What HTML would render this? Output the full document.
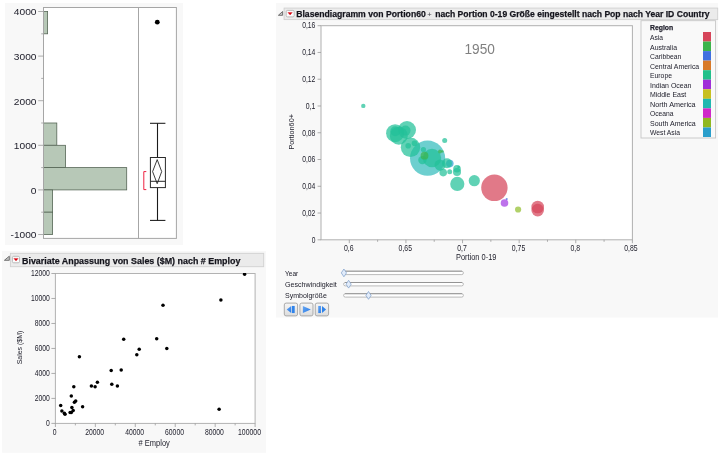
<!DOCTYPE html>
<html lang="de"><head><meta charset="utf-8"><title>JMP Berichte</title>
<style>html,body{margin:0;padding:0;background:#fff;width:720px;height:455px;overflow:hidden}svg{display:block;font-family:'Liberation Sans', Arial, sans-serif}</style></head><body>
<svg width="720" height="455" viewBox="0 0 720 455" fill="#22222e">
<rect width="720" height="455" fill="#ffffff"/>
<g id="distribution">
<rect x="5.00" y="3.00" width="178.00" height="242.00" fill="#f8f8f8" />
<rect x="43.50" y="7.50" width="132.90" height="230.90" fill="#ffffff" />
<rect x="43.50" y="11.50" width="4.10" height="22.30" fill="#b7c8b7" stroke="#566656" stroke-width="0.8" />
<rect x="43.50" y="123.00" width="13.30" height="22.30" fill="#b7c8b7" stroke="#566656" stroke-width="0.8" />
<rect x="43.50" y="145.30" width="22.00" height="22.30" fill="#b7c8b7" stroke="#566656" stroke-width="0.8" />
<rect x="43.50" y="167.60" width="83.20" height="22.30" fill="#b7c8b7" stroke="#566656" stroke-width="0.8" />
<rect x="43.50" y="189.90" width="9.10" height="22.30" fill="#b7c8b7" stroke="#566656" stroke-width="0.8" />
<rect x="43.50" y="212.20" width="9.10" height="22.30" fill="#b7c8b7" stroke="#566656" stroke-width="0.8" />
<rect x="43.50" y="7.50" width="132.90" height="230.90" fill="none" stroke="#a6a6a6" stroke-width="1" />
<line x1="138.50" y1="7.50" x2="138.50" y2="238.40" stroke="#a6a6a6" stroke-width="1" />
<line x1="38.20" y1="234.50" x2="43.50" y2="234.50" stroke="#9a9a9a" stroke-width="0.8" />
<text x="36.50" y="238.40" font-size="9.8" text-anchor="end" textLength="26.00" lengthAdjust="spacingAndGlyphs">-1000</text>
<line x1="41.20" y1="212.20" x2="43.50" y2="212.20" stroke="#9a9a9a" stroke-width="0.8" />
<line x1="38.20" y1="189.90" x2="43.50" y2="189.90" stroke="#9a9a9a" stroke-width="0.8" />
<text x="36.50" y="193.80" font-size="9.8" text-anchor="end" textLength="5.70" lengthAdjust="spacingAndGlyphs">0</text>
<line x1="41.20" y1="167.60" x2="43.50" y2="167.60" stroke="#9a9a9a" stroke-width="0.8" />
<line x1="38.20" y1="145.30" x2="43.50" y2="145.30" stroke="#9a9a9a" stroke-width="0.8" />
<text x="36.50" y="149.20" font-size="9.8" text-anchor="end" textLength="22.70" lengthAdjust="spacingAndGlyphs">1000</text>
<line x1="41.20" y1="123.00" x2="43.50" y2="123.00" stroke="#9a9a9a" stroke-width="0.8" />
<line x1="38.20" y1="100.70" x2="43.50" y2="100.70" stroke="#9a9a9a" stroke-width="0.8" />
<text x="36.50" y="104.60" font-size="9.8" text-anchor="end" textLength="22.70" lengthAdjust="spacingAndGlyphs">2000</text>
<line x1="41.20" y1="78.40" x2="43.50" y2="78.40" stroke="#9a9a9a" stroke-width="0.8" />
<line x1="38.20" y1="56.10" x2="43.50" y2="56.10" stroke="#9a9a9a" stroke-width="0.8" />
<text x="36.50" y="60.00" font-size="9.8" text-anchor="end" textLength="22.70" lengthAdjust="spacingAndGlyphs">3000</text>
<line x1="41.20" y1="33.80" x2="43.50" y2="33.80" stroke="#9a9a9a" stroke-width="0.8" />
<line x1="38.20" y1="11.50" x2="43.50" y2="11.50" stroke="#9a9a9a" stroke-width="0.8" />
<text x="36.50" y="15.40" font-size="9.8" text-anchor="end" textLength="22.70" lengthAdjust="spacingAndGlyphs">4000</text>
<line x1="157.50" y1="123.30" x2="157.50" y2="157.50" stroke="#1a1a1a" stroke-width="1.1" />
<line x1="157.50" y1="187.60" x2="157.50" y2="220.40" stroke="#1a1a1a" stroke-width="1.1" />
<line x1="150.00" y1="123.30" x2="165.40" y2="123.30" stroke="#1a1a1a" stroke-width="1.05" />
<line x1="150.00" y1="220.40" x2="165.40" y2="220.40" stroke="#1a1a1a" stroke-width="1.05" />
<rect x="150.40" y="157.50" width="15.00" height="30.10" fill="none" stroke="#2a2a2a" stroke-width="1.0" />
<line x1="150.40" y1="181.30" x2="165.40" y2="181.30" stroke="#2a2a2a" stroke-width="1.0" />
<polygon points="157.2,159.6 161.7,171.6 157.2,183.7 152.6,171.6" fill="none" stroke="#1a1a1a" stroke-width="0.85"/>
<polyline points="146.3,171.6 143.8,171.6 143.8,189.6 146.3,189.6" fill="none" stroke="#ee2240" stroke-width="1"/>
<circle cx="157.30" cy="22.20" r="2.40" fill="#000"/>
</g>
<g id="bivariate">
<rect x="2.10" y="251.00" width="263.90" height="201.80" fill="#f8f8f8" />
<rect x="10.40" y="253.30" width="253.30" height="13.40" fill="#ebebeb" stroke="#d0d0d0" stroke-width="0.9" />
<polygon points="9.30,256.20 9.30,260.30 4.40,260.30" fill="#c8c8c8" stroke="#666666" stroke-width="0.9" stroke-linejoin="round"/>
<rect x="12.40" y="256.30" width="7.10" height="6.50" fill="#fbfbfb" stroke="#b4b4b4" stroke-width="0.9" rx="1.3"/>
<polygon points="13.80,258.40 18.20,258.40 16.00,260.90" fill="#d9000f" stroke="#d9000f" stroke-width="0.3" stroke-linejoin="round"/>
<text x="22.00" y="263.50" font-size="9.8" font-weight="bold" stroke="#14141c" stroke-width="0.25" fill="#14141c" textLength="218.40" lengthAdjust="spacingAndGlyphs">Bivariate Anpassung von Sales ($M) nach # Employ</text>
<rect x="55.40" y="273.50" width="199.70" height="149.90" fill="#ffffff" stroke="#b2b2b2" stroke-width="1" />
<line x1="51.40" y1="423.40" x2="55.40" y2="423.40" stroke="#9a9a9a" stroke-width="0.8" />
<text x="49.90" y="425.95" font-size="8.3" text-anchor="end" textLength="3.78" lengthAdjust="spacingAndGlyphs">0</text>
<line x1="51.40" y1="398.42" x2="55.40" y2="398.42" stroke="#9a9a9a" stroke-width="0.8" />
<text x="49.90" y="400.97" font-size="8.3" text-anchor="end" textLength="15.12" lengthAdjust="spacingAndGlyphs">2000</text>
<line x1="51.40" y1="373.43" x2="55.40" y2="373.43" stroke="#9a9a9a" stroke-width="0.8" />
<text x="49.90" y="375.98" font-size="8.3" text-anchor="end" textLength="15.12" lengthAdjust="spacingAndGlyphs">4000</text>
<line x1="51.40" y1="348.45" x2="55.40" y2="348.45" stroke="#9a9a9a" stroke-width="0.8" />
<text x="49.90" y="351.00" font-size="8.3" text-anchor="end" textLength="15.12" lengthAdjust="spacingAndGlyphs">6000</text>
<line x1="51.40" y1="323.47" x2="55.40" y2="323.47" stroke="#9a9a9a" stroke-width="0.8" />
<text x="49.90" y="326.02" font-size="8.3" text-anchor="end" textLength="15.12" lengthAdjust="spacingAndGlyphs">8000</text>
<line x1="51.40" y1="298.48" x2="55.40" y2="298.48" stroke="#9a9a9a" stroke-width="0.8" />
<text x="49.90" y="301.03" font-size="8.3" text-anchor="end" textLength="18.90" lengthAdjust="spacingAndGlyphs">10000</text>
<line x1="51.40" y1="273.50" x2="55.40" y2="273.50" stroke="#9a9a9a" stroke-width="0.8" />
<text x="49.90" y="276.05" font-size="8.3" text-anchor="end" textLength="18.90" lengthAdjust="spacingAndGlyphs">12000</text>
<line x1="55.40" y1="423.40" x2="55.40" y2="427.00" stroke="#9a9a9a" stroke-width="0.8" />
<text x="54.70" y="435.00" font-size="8.3" text-anchor="middle" textLength="3.78" lengthAdjust="spacingAndGlyphs">0</text>
<line x1="75.37" y1="423.40" x2="75.37" y2="425.40" stroke="#9a9a9a" stroke-width="0.8" />
<line x1="95.34" y1="423.40" x2="95.34" y2="427.00" stroke="#9a9a9a" stroke-width="0.8" />
<text x="94.64" y="435.00" font-size="8.3" text-anchor="middle" textLength="18.90" lengthAdjust="spacingAndGlyphs">20000</text>
<line x1="115.31" y1="423.40" x2="115.31" y2="425.40" stroke="#9a9a9a" stroke-width="0.8" />
<line x1="135.28" y1="423.40" x2="135.28" y2="427.00" stroke="#9a9a9a" stroke-width="0.8" />
<text x="134.58" y="435.00" font-size="8.3" text-anchor="middle" textLength="18.90" lengthAdjust="spacingAndGlyphs">40000</text>
<line x1="155.25" y1="423.40" x2="155.25" y2="425.40" stroke="#9a9a9a" stroke-width="0.8" />
<line x1="175.22" y1="423.40" x2="175.22" y2="427.00" stroke="#9a9a9a" stroke-width="0.8" />
<text x="174.52" y="435.00" font-size="8.3" text-anchor="middle" textLength="18.90" lengthAdjust="spacingAndGlyphs">60000</text>
<line x1="195.19" y1="423.40" x2="195.19" y2="425.40" stroke="#9a9a9a" stroke-width="0.8" />
<line x1="215.16" y1="423.40" x2="215.16" y2="427.00" stroke="#9a9a9a" stroke-width="0.8" />
<text x="214.46" y="435.00" font-size="8.3" text-anchor="middle" textLength="18.90" lengthAdjust="spacingAndGlyphs">80000</text>
<line x1="235.13" y1="423.40" x2="235.13" y2="425.40" stroke="#9a9a9a" stroke-width="0.8" />
<line x1="255.10" y1="423.40" x2="255.10" y2="427.00" stroke="#9a9a9a" stroke-width="0.8" />
<text x="261.00" y="435.00" font-size="8.3" text-anchor="end" textLength="22.98" lengthAdjust="spacingAndGlyphs">100000</text>
<text x="154.20" y="445.50" font-size="8.3" text-anchor="middle" textLength="31.20" lengthAdjust="spacingAndGlyphs"># Employ</text>
<text transform="translate(21.8,347.5) rotate(-90)" font-size="8.0" text-anchor="middle" textLength="33.6" lengthAdjust="spacingAndGlyphs">Sales ($M)</text>
<clipPath id="sc"><rect x="55.40" y="272.90" width="199.70" height="150.50"/></clipPath>
<g fill="#000" clip-path="url(#sc)">
<circle cx="60.7" cy="405.5" r="1.75"/>
<circle cx="61.9" cy="411.0" r="1.75"/>
<circle cx="64.4" cy="413.2" r="1.75"/>
<circle cx="65.0" cy="414.2" r="1.75"/>
<circle cx="70.1" cy="412.6" r="1.75"/>
<circle cx="71.3" cy="412.4" r="1.75"/>
<circle cx="71.9" cy="407.6" r="1.75"/>
<circle cx="73.2" cy="410.4" r="1.75"/>
<circle cx="71.3" cy="396.1" r="1.75"/>
<circle cx="73.8" cy="386.7" r="1.75"/>
<circle cx="74.4" cy="402.3" r="1.75"/>
<circle cx="75.7" cy="401.0" r="1.75"/>
<circle cx="82.6" cy="406.7" r="1.75"/>
<circle cx="91.4" cy="386.0" r="1.75"/>
<circle cx="95.1" cy="386.7" r="1.75"/>
<circle cx="97.4" cy="382.3" r="1.75"/>
<circle cx="111.8" cy="384.2" r="1.75"/>
<circle cx="117.4" cy="386.0" r="1.75"/>
<circle cx="111.2" cy="370.5" r="1.75"/>
<circle cx="121.2" cy="370.0" r="1.75"/>
<circle cx="79.4" cy="356.7" r="1.75"/>
<circle cx="123.7" cy="339.2" r="1.75"/>
<circle cx="139.2" cy="349.2" r="1.75"/>
<circle cx="136.8" cy="354.8" r="1.75"/>
<circle cx="156.7" cy="338.8" r="1.75"/>
<circle cx="166.8" cy="348.6" r="1.75"/>
<circle cx="163.0" cy="305.3" r="1.75"/>
<circle cx="220.9" cy="299.9" r="1.75"/>
<circle cx="219.1" cy="409.3" r="1.75"/>
<circle cx="244.6" cy="274.2" r="1.75"/>
</g>
</g>
<g id="bubble">
<rect x="276.10" y="3.00" width="441.90" height="314.60" fill="#f8f8f8" />
<rect x="284.10" y="8.10" width="433.60" height="11.50" fill="#ebebeb" stroke="#d0d0d0" stroke-width="0.9" />
<polygon points="282.60,11.50 282.60,15.30 278.40,15.30" fill="#c8c8c8" stroke="#666666" stroke-width="0.9" stroke-linejoin="round"/>
<rect x="286.20" y="10.40" width="8.00" height="6.50" fill="#fbfbfb" stroke="#b4b4b4" stroke-width="0.9" rx="1.3"/>
<polygon points="287.90,12.50 292.30,12.50 290.10,14.90" fill="#d9000f" stroke="#d9000f" stroke-width="0.3" stroke-linejoin="round"/>
<text y="16.80" font-size="9.5" font-weight="bold" fill="#14141c" stroke="#14141c" stroke-width="0.25"><tspan x="296.20" textLength="129.60" lengthAdjust="spacingAndGlyphs">Blasendiagramm von Portion60</tspan><tspan x="427.20" font-size="7.6" font-weight="normal" stroke="none" fill="#44444c">+ </tspan><tspan x="435.20" textLength="274.40" lengthAdjust="spacingAndGlyphs">nach Portion 0-19 Größe eingestellt nach Pop nach Year ID Country</tspan></text>
<rect x="321.00" y="25.70" width="311.40" height="214.10" fill="#ffffff" stroke="#b0b0b0" stroke-width="1" />
<line x1="317.60" y1="239.80" x2="321.00" y2="239.80" stroke="#9a9a9a" stroke-width="0.8" />
<text x="315.40" y="242.55" font-size="8.3" text-anchor="end" textLength="3.70" lengthAdjust="spacingAndGlyphs">0</text>
<line x1="317.60" y1="213.04" x2="321.00" y2="213.04" stroke="#9a9a9a" stroke-width="0.8" />
<text x="315.40" y="215.79" font-size="8.3" text-anchor="end" textLength="13.20" lengthAdjust="spacingAndGlyphs">0,02</text>
<line x1="317.60" y1="186.28" x2="321.00" y2="186.28" stroke="#9a9a9a" stroke-width="0.8" />
<text x="315.40" y="189.03" font-size="8.3" text-anchor="end" textLength="13.20" lengthAdjust="spacingAndGlyphs">0,04</text>
<line x1="317.60" y1="159.51" x2="321.00" y2="159.51" stroke="#9a9a9a" stroke-width="0.8" />
<text x="315.40" y="162.26" font-size="8.3" text-anchor="end" textLength="13.20" lengthAdjust="spacingAndGlyphs">0,06</text>
<line x1="317.60" y1="132.75" x2="321.00" y2="132.75" stroke="#9a9a9a" stroke-width="0.8" />
<text x="315.40" y="135.50" font-size="8.3" text-anchor="end" textLength="13.20" lengthAdjust="spacingAndGlyphs">0,08</text>
<line x1="317.60" y1="105.99" x2="321.00" y2="105.99" stroke="#9a9a9a" stroke-width="0.8" />
<text x="315.40" y="108.74" font-size="8.3" text-anchor="end" textLength="9.60" lengthAdjust="spacingAndGlyphs">0,1</text>
<line x1="317.60" y1="79.23" x2="321.00" y2="79.23" stroke="#9a9a9a" stroke-width="0.8" />
<text x="315.40" y="81.98" font-size="8.3" text-anchor="end" textLength="13.20" lengthAdjust="spacingAndGlyphs">0,12</text>
<line x1="317.60" y1="52.46" x2="321.00" y2="52.46" stroke="#9a9a9a" stroke-width="0.8" />
<text x="315.40" y="55.21" font-size="8.3" text-anchor="end" textLength="13.20" lengthAdjust="spacingAndGlyphs">0,14</text>
<line x1="317.60" y1="25.70" x2="321.00" y2="25.70" stroke="#9a9a9a" stroke-width="0.8" />
<text x="315.40" y="28.45" font-size="8.3" text-anchor="end" textLength="13.20" lengthAdjust="spacingAndGlyphs">0,16</text>
<line x1="349.30" y1="239.80" x2="349.30" y2="243.20" stroke="#9a9a9a" stroke-width="0.8" />
<text x="348.70" y="251.00" font-size="8.3" text-anchor="middle" textLength="9.60" lengthAdjust="spacingAndGlyphs">0,6</text>
<line x1="377.61" y1="239.80" x2="377.61" y2="241.80" stroke="#9a9a9a" stroke-width="0.8" />
<line x1="405.92" y1="239.80" x2="405.92" y2="243.20" stroke="#9a9a9a" stroke-width="0.8" />
<text x="405.32" y="251.00" font-size="8.3" text-anchor="middle" textLength="13.40" lengthAdjust="spacingAndGlyphs">0,65</text>
<line x1="434.23" y1="239.80" x2="434.23" y2="241.80" stroke="#9a9a9a" stroke-width="0.8" />
<line x1="462.54" y1="239.80" x2="462.54" y2="243.20" stroke="#9a9a9a" stroke-width="0.8" />
<text x="461.94" y="251.00" font-size="8.3" text-anchor="middle" textLength="9.60" lengthAdjust="spacingAndGlyphs">0,7</text>
<line x1="490.85" y1="239.80" x2="490.85" y2="241.80" stroke="#9a9a9a" stroke-width="0.8" />
<line x1="519.16" y1="239.80" x2="519.16" y2="243.20" stroke="#9a9a9a" stroke-width="0.8" />
<text x="518.56" y="251.00" font-size="8.3" text-anchor="middle" textLength="13.40" lengthAdjust="spacingAndGlyphs">0,75</text>
<line x1="547.47" y1="239.80" x2="547.47" y2="241.80" stroke="#9a9a9a" stroke-width="0.8" />
<line x1="575.78" y1="239.80" x2="575.78" y2="243.20" stroke="#9a9a9a" stroke-width="0.8" />
<text x="575.18" y="251.00" font-size="8.3" text-anchor="middle" textLength="9.60" lengthAdjust="spacingAndGlyphs">0,8</text>
<line x1="604.09" y1="239.80" x2="604.09" y2="241.80" stroke="#9a9a9a" stroke-width="0.8" />
<line x1="632.40" y1="239.80" x2="632.40" y2="243.20" stroke="#9a9a9a" stroke-width="0.8" />
<text x="631.00" y="251.00" font-size="8.3" text-anchor="middle" textLength="13.40" lengthAdjust="spacingAndGlyphs">0,85</text>
<text x="476.20" y="260.00" font-size="8.3" text-anchor="middle" textLength="40.50" lengthAdjust="spacingAndGlyphs">Portion 0-19</text>
<text transform="translate(293.6,131.8) rotate(-90)" font-size="8.0" text-anchor="middle" textLength="35.6" lengthAdjust="spacingAndGlyphs">Portion60+</text>
<text x="479.70" y="54.00" font-size="14.5" text-anchor="middle" fill="#808080" textLength="30.40" lengthAdjust="spacingAndGlyphs">1950</text>
<g>
<circle cx="363.30" cy="105.90" r="2.20" fill="#22c198" fill-opacity="0.72"/>
<circle cx="427.60" cy="158.20" r="17.60" fill="#35bcbc" fill-opacity="0.72"/>
<circle cx="395.10" cy="133.20" r="9.00" fill="#22c198" fill-opacity="0.72"/>
<circle cx="407.00" cy="130.00" r="9.00" fill="#22c198" fill-opacity="0.72"/>
<circle cx="398.80" cy="135.70" r="9.00" fill="#22c198" fill-opacity="0.72"/>
<circle cx="395.30" cy="131.30" r="5.00" fill="#22c198" fill-opacity="0.72"/>
<circle cx="405.50" cy="130.60" r="5.00" fill="#22c198" fill-opacity="0.72"/>
<circle cx="410.50" cy="147.30" r="9.70" fill="#22c198" fill-opacity="0.72"/>
<circle cx="408.20" cy="145.70" r="2.80" fill="#22c198" fill-opacity="0.72"/>
<circle cx="414.50" cy="143.20" r="2.80" fill="#22c198" fill-opacity="0.72"/>
<circle cx="449.80" cy="163.60" r="3.80" fill="#2b9fd0" fill-opacity="0.72"/>
<circle cx="432.00" cy="158.00" r="9.20" fill="#22c198" fill-opacity="0.72"/>
<circle cx="422.40" cy="160.10" r="4.20" fill="#22c198" fill-opacity="0.72"/>
<circle cx="423.40" cy="149.50" r="2.60" fill="#22c198" fill-opacity="0.72"/>
<circle cx="424.50" cy="155.70" r="3.90" fill="#3cb44b" fill-opacity="0.72"/>
<circle cx="440.00" cy="151.50" r="1.90" fill="#3cb44b" fill-opacity="0.72"/>
<circle cx="442.40" cy="151.40" r="1.20" fill="#3cb44b" fill-opacity="0.72"/>
<circle cx="444.70" cy="140.40" r="2.50" fill="#22c198" fill-opacity="0.72"/>
<circle cx="440.10" cy="165.10" r="5.60" fill="#22c198" fill-opacity="0.72"/>
<circle cx="447.00" cy="163.20" r="5.00" fill="#22c198" fill-opacity="0.72"/>
<circle cx="443.20" cy="172.60" r="3.80" fill="#22c198" fill-opacity="0.72"/>
<circle cx="449.70" cy="171.70" r="2.50" fill="#22c198" fill-opacity="0.72"/>
<circle cx="457.00" cy="168.80" r="3.80" fill="#22c198" fill-opacity="0.72"/>
<circle cx="457.00" cy="172.00" r="4.00" fill="#22c198" fill-opacity="0.72"/>
<circle cx="458.60" cy="167.00" r="1.30" fill="#22c198" fill-opacity="0.72"/>
<circle cx="457.30" cy="183.90" r="7.10" fill="#22c198" fill-opacity="0.72"/>
<circle cx="474.30" cy="180.70" r="5.60" fill="#22c198" fill-opacity="0.72"/>
<circle cx="494.40" cy="187.80" r="13.20" fill="#d6455a" fill-opacity="0.72"/>
<circle cx="506.70" cy="199.10" r="1.10" fill="#4070e0" fill-opacity="0.72"/>
<circle cx="504.50" cy="203.00" r="3.80" fill="#a43be3" fill-opacity="0.72"/>
<circle cx="518.10" cy="209.50" r="3.10" fill="#93bf2f" fill-opacity="0.72"/>
<circle cx="537.70" cy="207.00" r="6.30" fill="#d6455a" fill-opacity="0.72"/>
<circle cx="537.70" cy="210.10" r="6.30" fill="#d6455a" fill-opacity="0.72"/>
</g>
<rect x="641.00" y="20.70" width="74.60" height="117.30" fill="#f9f9f9" stroke="#c6c6c6" stroke-width="0.9" />
<text x="650.00" y="29.90" font-size="8.0" font-weight="bold" stroke="#22222e" stroke-width="0.25" textLength="23.20" lengthAdjust="spacingAndGlyphs">Region</text>
<text x="650.00" y="40.00" font-size="7.9" textLength="13.00" lengthAdjust="spacingAndGlyphs">Asia</text>
<rect x="703.00" y="32.00" width="8.00" height="9.55" fill="#d6455a" />
<text x="650.00" y="49.53" font-size="7.9" textLength="27.00" lengthAdjust="spacingAndGlyphs">Australia</text>
<rect x="703.00" y="41.55" width="8.00" height="9.55" fill="#3cb44b" />
<text x="650.00" y="59.06" font-size="7.9" textLength="31.20" lengthAdjust="spacingAndGlyphs">Caribbean</text>
<rect x="703.00" y="51.09" width="8.00" height="9.54" fill="#4070e0" />
<text x="650.00" y="68.59" font-size="7.9" textLength="49.20" lengthAdjust="spacingAndGlyphs">Central America</text>
<rect x="703.00" y="60.63" width="8.00" height="9.55" fill="#d87a28" />
<text x="650.00" y="78.12" font-size="7.9" textLength="22.00" lengthAdjust="spacingAndGlyphs">Europe</text>
<rect x="703.00" y="70.18" width="8.00" height="9.54" fill="#22c08a" />
<text x="650.00" y="87.65" font-size="7.9" textLength="41.50" lengthAdjust="spacingAndGlyphs">Indian Ocean</text>
<rect x="703.00" y="79.72" width="8.00" height="9.55" fill="#a030d8" />
<text x="650.00" y="97.18" font-size="7.9" textLength="36.30" lengthAdjust="spacingAndGlyphs">Middle East</text>
<rect x="703.00" y="89.27" width="8.00" height="9.55" fill="#c8c020" />
<text x="650.00" y="106.71" font-size="7.9" textLength="45.60" lengthAdjust="spacingAndGlyphs">North America</text>
<rect x="703.00" y="98.81" width="8.00" height="9.55" fill="#20b8b0" />
<text x="650.00" y="116.24" font-size="7.9" textLength="23.60" lengthAdjust="spacingAndGlyphs">Oceana</text>
<rect x="703.00" y="108.36" width="8.00" height="9.55" fill="#d028c8" />
<text x="650.00" y="125.77" font-size="7.9" textLength="45.80" lengthAdjust="spacingAndGlyphs">South America</text>
<rect x="703.00" y="117.91" width="8.00" height="9.55" fill="#90b820" />
<text x="650.00" y="135.30" font-size="7.9" textLength="30.00" lengthAdjust="spacingAndGlyphs">West Asia</text>
<rect x="703.00" y="127.45" width="8.00" height="9.55" fill="#2a9ecb" />
<text x="285.00" y="275.50" font-size="8.1" textLength="13.20" lengthAdjust="spacingAndGlyphs">Year</text>
<rect x="343.60" y="271.20" width="119.80" height="3.40" fill="#ffffff" stroke="#a9a9a9" stroke-width="0.8" rx="1.7"/>
<line x1="345.00" y1="271.20" x2="462.00" y2="271.20" stroke="#8a8a8a" stroke-width="0.8" />
<polygon points="343.90,269.00 346.50,272.90 343.90,276.80 341.30,272.90" fill="#e2ecfa" stroke="#7b9cc8" stroke-width="0.7"/>
<text x="285.00" y="286.80" font-size="8.1" textLength="51.80" lengthAdjust="spacingAndGlyphs">Geschwindigkeit</text>
<rect x="343.60" y="282.50" width="119.80" height="3.40" fill="#ffffff" stroke="#a9a9a9" stroke-width="0.8" rx="1.7"/>
<line x1="345.00" y1="282.50" x2="462.00" y2="282.50" stroke="#8a8a8a" stroke-width="0.8" />
<polygon points="348.60,280.30 351.20,284.20 348.60,288.10 346.00,284.20" fill="#e2ecfa" stroke="#7b9cc8" stroke-width="0.7"/>
<text x="285.00" y="298.00" font-size="8.1" textLength="41.80" lengthAdjust="spacingAndGlyphs">Symbolgröße</text>
<rect x="343.60" y="293.70" width="119.80" height="3.40" fill="#ffffff" stroke="#a9a9a9" stroke-width="0.8" rx="1.7"/>
<line x1="345.00" y1="293.70" x2="462.00" y2="293.70" stroke="#8a8a8a" stroke-width="0.8" />
<polygon points="368.50,291.50 371.10,295.40 368.50,299.30 365.90,295.40" fill="#e2ecfa" stroke="#7b9cc8" stroke-width="0.7"/>
<defs><linearGradient id="bg" x1="0" y1="0" x2="0" y2="1"><stop offset="0" stop-color="#f6f6f6"/><stop offset="1" stop-color="#dcdcdc"/></linearGradient><linearGradient id="ig" x1="0" y1="0" x2="1" y2="1"><stop offset="0" stop-color="#6aa8f2"/><stop offset="1" stop-color="#2478e6"/></linearGradient></defs>
<rect x="284.30" y="303.10" width="13.30" height="12.80" fill="url(#bg)" stroke="#a2a2a2" stroke-width="0.9" rx="1.8"/>
<polygon points="286.7,309.5 291.2,306.0 291.2,313.0" fill="url(#ig)"/>
<rect x="291.90" y="305.95" width="2.80" height="7.10" fill="#2f83ea" />
<rect x="299.90" y="303.10" width="13.10" height="12.80" fill="url(#bg)" stroke="#a2a2a2" stroke-width="0.9" rx="1.8"/>
<polygon points="302.9,305.9 310.8,309.5 302.9,313.1" fill="url(#ig)"/>
<rect x="315.25" y="303.10" width="13.35" height="12.80" fill="url(#bg)" stroke="#a2a2a2" stroke-width="0.9" rx="1.8"/>
<rect x="318.20" y="305.95" width="2.70" height="7.10" fill="url(#ig)" />
<polygon points="326.1,309.5 322.0,306.0 322.0,313.0" fill="#2f83ea"/>
</g>
</svg></body></html>
